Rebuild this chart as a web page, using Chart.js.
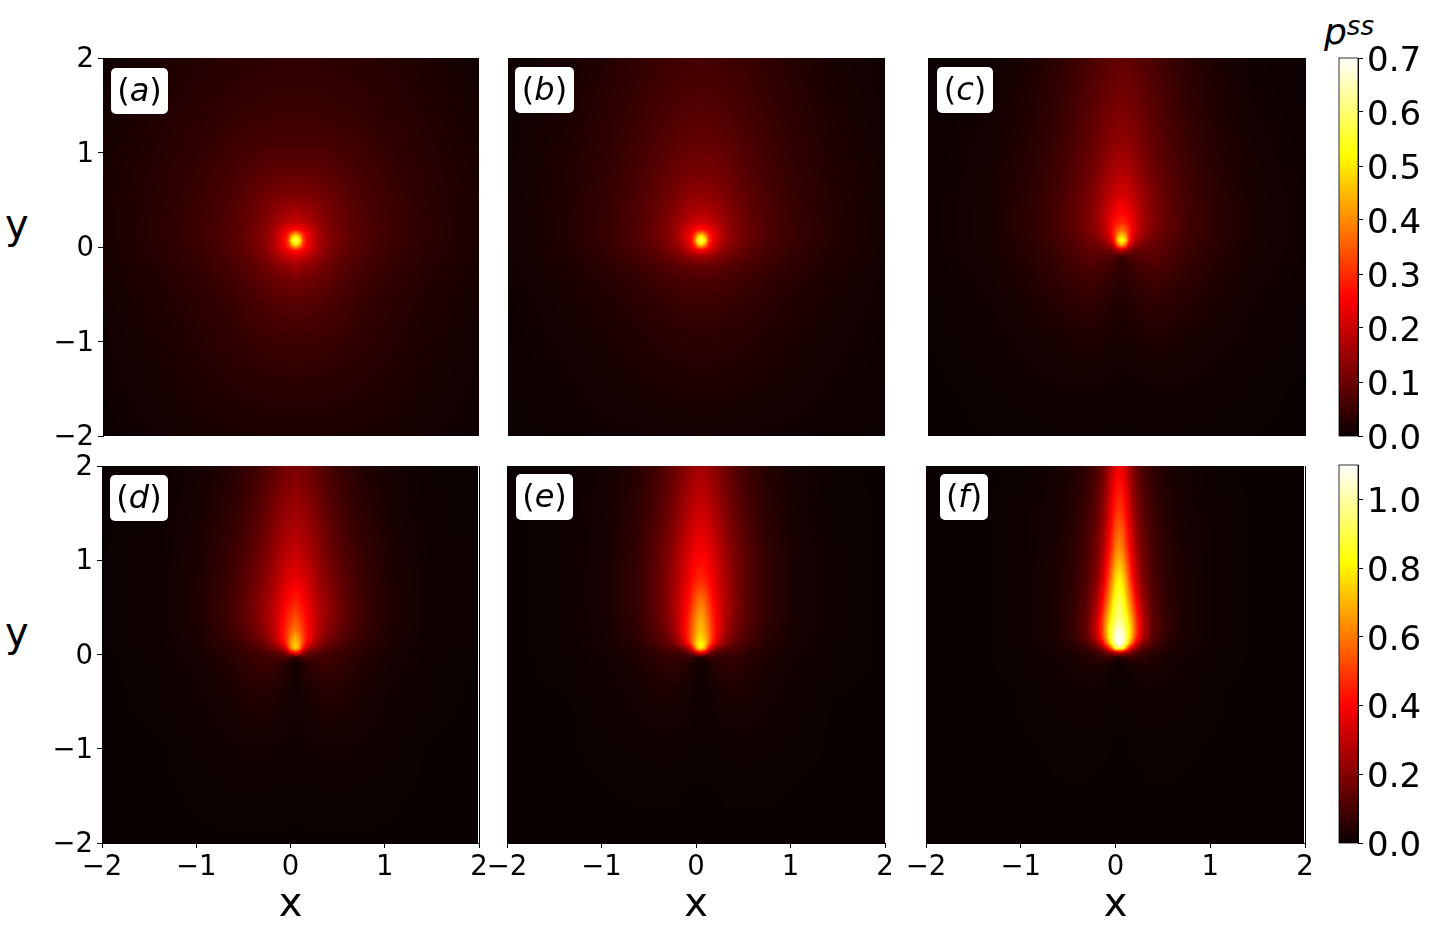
<!DOCTYPE html>
<html>
<head>
<meta charset="utf-8">
<script src="https://cdn.jsdelivr.net/npm/chart.js@4"></script>
<style>
html, body { margin: 0; background: #fff; width: 1439px; height: 927px; overflow: hidden; }
canvas { position: absolute; }
.lbl { position: absolute; font-family: "DejaVu Sans"; color: #000; line-height: 1; white-space: nowrap; }
</style>
</head>
<body>
<div class="lbl" style="left:5px;top:204px;font-size:40px">y</div>
<div class="lbl" style="left:5px;top:612px;font-size:40px">y</div>
<div class="lbl" style="left:1324px;top:14px;font-size:36px"><i>p</i><sup style="font-size:26px;position:relative;top:-9px;vertical-align:baseline"><i>ss</i></sup></div>
<script>
// grid of the picture: distance from the source column, and y (top to bottom)
var dxGrid = [0, .04, .08, .12, .18, .25, .35, .5, .7, 1, 1.4, 2.05];
var yGrid = [2, 1.5, 1.1, .8, .55, .38, .26, .18, .12, .07, .02, -.03, -.1, -.2, -.35, -.6, -1, -1.5, -2];
var xTicks = [-2, -1, 0, 1, 2];
var topBarTicks = [0, .1, .2, .3, .4, .5, .6, .7];
var bottomBarTicks = [0, .2, .4, .6, .8, 1];

var pA = [
[.036,.036,.036,.036,.036,.036,.035,.034,.031,.026,.018,.006],
[.046,.046,.046,.046,.046,.046,.045,.043,.040,.033,.024,.010],
[.063,.063,.063,.063,.062,.062,.060,.056,.050,.039,.028,.012],
[.088,.088,.087,.087,.086,.084,.080,.072,.060,.045,.030,.014],
[.122,.12,.12,.118,.116,.11,.10,.085,.068,.05,.032,.015],
[.16,.158,.155,.15,.14,.13,.112,.092,.072,.052,.033,.015],
[.195,.19,.185,.175,.16,.14,.118,.096,.074,.053,.034,.015],
[.27,.265,.245,.225,.19,.155,.124,.098,.075,.053,.034,.015],
[.50,.42,.30,.25,.205,.16,.127,.099,.075,.053,.034,.015],
[.60,.52,.33,.255,.20,.16,.128,.10,.075,.053,.034,.015],
[.50,.42,.30,.25,.205,.16,.127,.097,.073,.052,.033,.014],
[.29,.275,.25,.23,.195,.155,.122,.095,.072,.05,.032,.014],
[.21,.205,.195,.185,.165,.14,.113,.09,.068,.048,.03,.013],
[.155,.15,.145,.14,.13,.115,.1,.082,.062,.045,.028,.012],
[.11,.108,.106,.104,.1,.094,.085,.07,.055,.04,.026,.011],
[.078,.078,.077,.076,.074,.072,.066,.058,.046,.034,.022,.009],
[.052,.052,.052,.051,.05,.05,.048,.044,.037,.028,.018,.007],
[.032,.032,.032,.032,.032,.031,.03,.029,.026,.021,.014,.005],
[.018,.018,.018,.018,.018,.018,.018,.017,.015,.013,.009,.003]];

var pB = [
[.058,.058,.058,.057,.056,.054,.051,.046,.038,.026,.014,.004],
[.073,.073,.072,.071,.07,.068,.064,.057,.046,.032,.018,.005],
[.092,.092,.091,.09,.088,.085,.078,.068,.054,.037,.021,.006],
[.112,.112,.111,.11,.106,.1,.09,.076,.06,.04,.023,.007],
[.14,.14,.138,.135,.128,.118,.103,.085,.065,.043,.024,.007],
[.172,.17,.165,.16,.15,.135,.115,.091,.068,.045,.025,.008],
[.21,.205,.20,.19,.17,.148,.122,.095,.07,.046,.026,.008],
[.28,.27,.25,.225,.195,.158,.125,.097,.071,.047,.026,.008],
[.50,.42,.30,.25,.205,.162,.126,.097,.071,.047,.026,.008],
[.60,.52,.32,.245,.195,.155,.124,.095,.069,.046,.025,.008],
[.48,.40,.28,.225,.18,.145,.117,.09,.066,.044,.024,.007],
[.26,.25,.225,.20,.165,.135,.108,.085,.063,.042,.023,.007],
[.15,.15,.145,.135,.125,.112,.096,.078,.058,.039,.022,.007],
[.095,.095,.093,.09,.088,.082,.075,.064,.05,.034,.02,.006],
[.068,.068,.067,.066,.064,.062,.057,.05,.04,.028,.017,.005],
[.05,.05,.05,.049,.048,.046,.043,.038,.031,.022,.014,.004],
[.033,.033,.033,.032,.032,.031,.03,.027,.022,.016,.01,.003],
[.019,.019,.019,.019,.019,.018,.018,.016,.014,.011,.007,.002],
[.009,.009,.009,.009,.009,.009,.009,.008,.007,.006,.004,.001]];

var pC = [
[.09,.088,.086,.084,.08,.074,.064,.05,.033,.017,.006,.001],
[.115,.113,.11,.106,.10,.09,.078,.06,.04,.022,.008,.001],
[.14,.138,.134,.128,.118,.105,.088,.069,.047,.026,.011,.002],
[.175,.17,.165,.155,.14,.122,.10,.077,.053,.03,.013,.002],
[.215,.21,.2,.185,.165,.14,.112,.084,.057,.032,.014,.003],
[.26,.25,.235,.215,.18,.15,.118,.087,.059,.034,.015,.003],
[.30,.285,.265,.23,.19,.15,.118,.088,.06,.034,.015,.003],
[.37,.34,.29,.235,.185,.145,.115,.087,.06,.034,.015,.003],
[.48,.42,.29,.225,.17,.135,.108,.082,.057,.033,.015,.003],
[.55,.48,.29,.20,.15,.12,.10,.077,.054,.032,.014,.003],
[.44,.36,.22,.16,.125,.105,.095,.074,.052,.031,.014,.003],
[.2,.17,.13,.11,.10,.092,.09,.07,.05,.03,.014,.003],
[.05,.055,.065,.072,.078,.08,.08,.065,.047,.028,.013,.003],
[.038,.042,.048,.054,.06,.065,.07,.058,.042,.025,.012,.002],
[.03,.032,.036,.04,.046,.05,.055,.048,.036,.022,.01,.002],
[.022,.023,.025,.027,.031,.035,.038,.034,.026,.017,.008,.001],
[.014,.014,.015,.016,.017,.018,.02,.018,.014,.01,.005,.001],
[.005,.005,.005,.005,.006,.007,.008,.008,.007,.005,.002,0],
[.002,.002,.002,.002,.002,.002,.002,.002,.002,.001,.001,0]];

var pD = [
[.18,.178,.172,.165,.15,.13,.10,.07,.04,.018,.005,0],
[.24,.235,.228,.22,.20,.175,.135,.095,.055,.024,.006,0],
[.30,.295,.285,.27,.245,.21,.165,.115,.07,.03,.008,.001],
[.37,.36,.345,.325,.285,.24,.19,.135,.08,.033,.009,.001],
[.46,.44,.41,.38,.325,.27,.22,.15,.085,.034,.009,.001],
[.53,.50,.46,.41,.35,.28,.22,.15,.085,.034,.009,.001],
[.60,.56,.49,.43,.35,.27,.20,.135,.08,.032,.009,.001],
[.68,.62,.52,.43,.34,.25,.18,.12,.07,.03,.008,.001],
[.74,.66,.52,.40,.30,.22,.155,.105,.065,.028,.008,.001],
[.75,.66,.44,.31,.23,.175,.13,.09,.055,.025,.007,.001],
[.45,.38,.26,.18,.14,.115,.10,.078,.05,.022,.006,.001],
[.06,.07,.09,.10,.095,.09,.09,.07,.045,.02,.006,0],
[.02,.025,.035,.05,.068,.075,.078,.062,.04,.018,.005,0],
[.018,.022,.03,.04,.052,.06,.065,.052,.035,.016,.005,0],
[.016,.018,.022,.028,.036,.043,.048,.042,.028,.013,.004,0],
[.013,.014,.016,.019,.023,.027,.03,.028,.02,.01,.003,0],
[.009,.009,.01,.01,.011,.012,.013,.013,.01,.005,.001,0],
[.002,.002,.003,.003,.003,.003,.004,.004,.003,.002,.001,0],
[.001,.001,.001,.001,.001,.001,.001,.001,.001,.001,0,0]];

var pE = [
[.25,.245,.235,.22,.195,.165,.125,.08,.042,.016,.003,0],
[.32,.315,.30,.28,.245,.205,.155,.10,.052,.019,.004,0],
[.39,.385,.365,.34,.30,.25,.185,.12,.06,.021,.005,0],
[.46,.45,.42,.385,.33,.27,.20,.125,.063,.022,.005,0],
[.60,.57,.50,.43,.36,.285,.205,.125,.063,.022,.005,0],
[.68,.64,.56,.47,.38,.285,.195,.12,.06,.021,.005,0],
[.72,.67,.59,.49,.385,.27,.18,.11,.055,.02,.005,0],
[.77,.71,.61,.49,.36,.245,.16,.10,.05,.019,.005,0],
[.83,.76,.60,.46,.31,.21,.14,.09,.046,.018,.004,0],
[.82,.72,.47,.31,.2,.15,.11,.07,.04,.016,.004,0],
[.40,.34,.22,.15,.11,.09,.09,.06,.033,.014,.004,0],
[.03,.04,.06,.075,.07,.07,.07,.05,.029,.013,.003,0],
[.012,.016,.026,.038,.052,.058,.06,.043,.025,.012,.004,0],
[.01,.014,.02,.028,.038,.044,.048,.037,.022,.01,.003,0],
[.008,.01,.014,.018,.025,.03,.034,.029,.017,.008,.002,0],
[.007,.008,.01,.012,.015,.018,.02,.018,.012,.006,.001,0],
[.003,.003,.003,.004,.004,.005,.006,.006,.005,.003,.001,0],
[.001,.001,.001,.001,.001,.002,.002,.002,.002,.001,0,0],
[0,0,0,0,0,0,0,0,0,0,0,0]];

var pF = [
[.38,.36,.30,.23,.15,.10,.06,.03,.014,.004,0,0],
[.50,.47,.39,.30,.20,.135,.08,.04,.018,.006,.001,0],
[.65,.60,.49,.39,.25,.165,.10,.05,.022,.007,.001,0],
[.82,.75,.62,.48,.31,.19,.11,.055,.025,.007,.001,0],
[.92,.87,.74,.60,.40,.24,.125,.06,.025,.007,.001,0],
[.97,.93,.84,.70,.48,.28,.14,.065,.025,.007,.001,0],
[1.08,1.0,.90,.76,.50,.30,.14,.065,.025,.007,.001,0],
[1.1,1.05,.92,.74,.47,.27,.13,.06,.024,.007,.001,0],
[1.1,1.03,.86,.62,.36,.20,.11,.05,.02,.006,.001,0],
[.95,.88,.6,.40,.22,.13,.075,.04,.016,.005,.001,0],
[.3,.28,.22,.17,.11,.08,.055,.03,.014,.004,.001,0],
[.04,.05,.07,.08,.07,.055,.04,.025,.012,.004,.001,0],
[.006,.008,.015,.025,.035,.035,.03,.02,.01,.003,.001,0],
[.004,.005,.008,.013,.018,.02,.02,.015,.008,.003,.001,0],
[.003,.004,.005,.007,.01,.012,.012,.01,.006,.002,0,0],
[.002,.002,.003,.004,.005,.006,.006,.006,.004,.002,0,0],
[.001,.001,.001,.002,.002,.002,.003,.003,.002,.001,0,0],
[0,0,0,0,0,.001,.001,.001,.001,0,0,0],
[0,0,0,0,0,0,0,0,0,0,0,0]];

// matplotlib hot
function hot(t) {
    t = Math.max(0, Math.min(1, t));
    var r = Math.min(1, .0416 + t / .365 * .9584);
    var g = t < .365 ? 0 : Math.min(1, (t - .365) / .381);
    var b = t < .746 ? 0 : (t - .746) / .254;
    return [r * 255, g * 255, b * 255];
}

function findCell(list, v) {
    // list may run up or down
    var i = 0;
    var up = list[1] > list[0];
    while (i < list.length - 2 && (up ? v > list[i + 1] : v < list[i + 1])) i++;
    var f = (v - list[i]) / (list[i + 1] - list[i]);
    return [i, Math.max(0, Math.min(1, f))];
}

function sample(rows, dx, y) {
    var a = findCell(dxGrid, dx), b = findCell(yGrid, y);
    var i = a[0], j = b[0], u = a[1], w = b[1];
    return (rows[j][i] * (1 - u) + rows[j][i + 1] * u) * (1 - w) +
           (rows[j + 1][i] * (1 - u) + rows[j + 1][i + 1] * u) * w;
}

var heatPlugin = {
    id: 'heat',
    beforeDatasetsDraw: function (chart, args, o) {
        var area = chart.chartArea, ctx = chart.ctx;
        var sx = chart.scales.x, sy = chart.scales.y;
        var w = Math.round(area.right - area.left) - (o.trim || 0), h = Math.round(area.bottom - area.top);
        var img = ctx.createImageData(w, h);
        for (var py = 0; py < h; py++) {
            var yv = sy.getValueForPixel(area.top + py + .5);
            for (var px = 0; px < w; px++) {
                var v;
                if (o.rows) {
                    var dx = Math.abs(sx.getValueForPixel(area.left + px + .5) - o.xc);
                    v = sample(o.rows, dx, yv);
                } else {
                    v = yv;
                }
                var c = hot(v / o.vmax), k = (py * w + px) * 4;
                img.data[k] = c[0]; img.data[k + 1] = c[1]; img.data[k + 2] = c[2]; img.data[k + 3] = 255;
            }
        }
        ctx.putImageData(img, Math.round(area.left), Math.round(area.top));
        // some panels stop short of their right spine
        if (o.trim) {
            ctx.fillStyle = '#fff';
            ctx.fillRect(area.right - o.trim, area.top, o.trim, h);
            ctx.fillStyle = '#000';
            ctx.fillRect(area.right, area.top, 1, h);
        }
        if (!o.rows) {
            ctx.strokeStyle = '#000';
            ctx.lineWidth = .8;
            ctx.strokeRect(area.left, area.top, area.right - area.left, area.bottom - area.top);
        }
    },
    afterDatasetsDraw: function (chart, args, o) {
        if (!o.name) return;
        var ctx = chart.ctx, b = o.box;
        var x = b[0] - chart.canvas.offsetLeft, y = b[1] - chart.canvas.offsetTop;
        ctx.fillStyle = '#fff';
        ctx.beginPath();
        ctx.roundRect(x, y, b[2], b[3], 5);
        ctx.fill();
        ctx.fillStyle = '#000';
        ctx.textBaseline = 'middle';
        ctx.textAlign = 'left';
        var big = '32px "DejaVu Sans"', it = 'italic 32px "DejaVu Sans"';
        ctx.font = big;
        var w1 = ctx.measureText('(').width, w3 = w1;
        ctx.font = it;
        var w2 = ctx.measureText(o.name).width;
        var tx = x + (b[2] - w1 - w2 - w3) / 2, ty = y + b[3] / 2 + 2;
        ctx.font = big;
        ctx.fillText('(', tx, ty);
        ctx.font = it;
        ctx.fillText(o.name, tx + w1, ty);
        ctx.font = big;
        ctx.fillText(')', tx + w1 + w2, ty);
    }
};

function minus(v) {
    return String(v).replace('-', '\u2212');
}

function addCanvas(left, top, width, height) {
    var c = document.createElement('canvas');
    c.width = width; c.height = height;
    c.style.left = left + 'px'; c.style.top = top + 'px';
    document.body.appendChild(c);
    return c;
}

var tickFont = { family: 'DejaVu Sans', size: 27.5 };

function fixedTicks(list) {
    return function (scale) {
        scale.ticks = list.map(function (v) { return { value: v }; });
    };
}

function addPanel(p) {
    // p.l p.t p.r p.b is the plot rectangle on the page
    var showX = p.row === 1, showY = p.col === 0;
    var left = showY ? 0 : p.l - 25, top = p.t - 20;
    var width = p.r + 25 - left, height = (showX ? 930 : p.b + 20) - top;
    var nodes = [];
    yGrid.forEach(function (y) {
        dxGrid.forEach(function (dx) { nodes.push({ x: p.xc + dx, y: y }); });
    });
    new Chart(addCanvas(left, top, width, height), {
        type: 'scatter',
        data: { datasets: [{ data: nodes, pointRadius: 0, showLine: false }] },
        plugins: [heatPlugin],
        options: {
            responsive: false, animation: false,
            layout: { padding: {
                left: showY ? 0 : p.l - left, top: p.t - top,
                right: width - (p.r - left), bottom: showX ? 0 : height - (p.b - top)
            } },
            plugins: {
                legend: { display: false }, tooltip: { enabled: false },
                heat: { rows: p.rows, xc: p.xc, vmax: p.vmax, name: p.name, box: p.box, trim: p.trim }
            },
            scales: {
                x: {
                    type: 'linear', min: -2, max: 2, display: showX,
                    afterBuildTicks: fixedTicks(xTicks),
                    grid: { drawOnChartArea: false, tickLength: 5, tickColor: '#000', tickWidth: 1 },
                    border: { color: '#000' },
                    ticks: { font: tickFont, color: '#000', padding: 3, maxRotation: 0, callback: minus },
                    title: { display: true, text: 'x', font: { family: 'DejaVu Sans', size: 40 }, color: '#000', padding: 0 },
                    afterFit: function (s) {
                        s.height = showX ? height - (p.b - top) : 0;
                        s.paddingLeft = 0; s.paddingRight = 0;
                    }
                },
                y: {
                    type: 'linear', min: -2, max: 2, display: showY,
                    afterBuildTicks: fixedTicks(xTicks),
                    grid: { drawOnChartArea: false, tickLength: 5, tickColor: '#000', tickWidth: 1 },
                    border: { color: '#000' },
                    ticks: { font: tickFont, color: '#000', padding: 4, labelOffset: 2, callback: minus },
                    afterFit: function (s) {
                        s.width = showY ? p.l - left : 0;
                        s.paddingTop = 0; s.paddingBottom = 0;
                    }
                }
            }
        }
    });
}

function addColorbar(t, b, vmax, list) {
    var left = 1320, right = 1358, top = t - 30, height = b + 30 - top, width = 1439 - left;
    new Chart(addCanvas(left, top, width, height), {
        type: 'scatter',
        data: { datasets: [{ data: list.map(function (v) { return { x: 0, y: v }; }), pointRadius: 0 }] },
        plugins: [heatPlugin],
        options: {
            responsive: false, animation: false,
            layout: { padding: { left: 1339 - left, top: t - top, right: 0, bottom: height - (b - top) } },
            plugins: { legend: { display: false }, tooltip: { enabled: false }, heat: { vmax: vmax } },
            scales: {
                x: { type: 'linear', min: -1, max: 1, display: false },
                y: {
                    type: 'linear', position: 'right', min: 0, max: vmax,
                    afterBuildTicks: fixedTicks(list),
                    grid: { drawOnChartArea: false, tickLength: 5, tickColor: '#000', tickWidth: 1 },
                    border: { color: '#000' },
                    ticks: { font: { family: 'DejaVu Sans', size: 34 }, color: '#000', padding: 4, labelOffset: 4,
                        callback: function (v) { return v.toFixed(1); } },
                    afterFit: function (s) { s.width = 1439 - right; s.paddingTop = 0; s.paddingBottom = 0; }
                }
            }
        }
    });
}

addPanel({ row: 0, col: 0, l: 103, t: 58, r: 479, b: 436, rows: pA, xc: .05, vmax: .7, name: 'a', box: [111, 68, 57, 46] });
addPanel({ row: 0, col: 1, l: 508, t: 58, r: 885, b: 436, rows: pB, xc: .05, vmax: .7, name: 'b', box: [515, 67, 59, 46] });
addPanel({ row: 0, col: 2, l: 928, t: 58, r: 1306, b: 436, rows: pC, xc: .05, vmax: .7, name: 'c', box: [937, 67, 56, 46] });
addPanel({ row: 1, col: 0, l: 102, t: 466, r: 479, b: 843, rows: pD, xc: .05, vmax: 1.1, name: 'd', box: [110, 475, 58, 46], trim: 1 });
addPanel({ row: 1, col: 1, l: 507, t: 466, r: 885, b: 843, rows: pE, xc: .05, vmax: 1.1, name: 'e', box: [516, 474, 57, 46] });
addPanel({ row: 1, col: 2, l: 926, t: 466, r: 1305, b: 843, rows: pF, xc: .04, vmax: 1.1, name: 'f', box: [940, 474, 48, 46], trim: 1 });
addColorbar(58, 436, .7, topBarTicks);
addColorbar(465, 843, 1.1, bottomBarTicks);
</script>
</body>
</html>
